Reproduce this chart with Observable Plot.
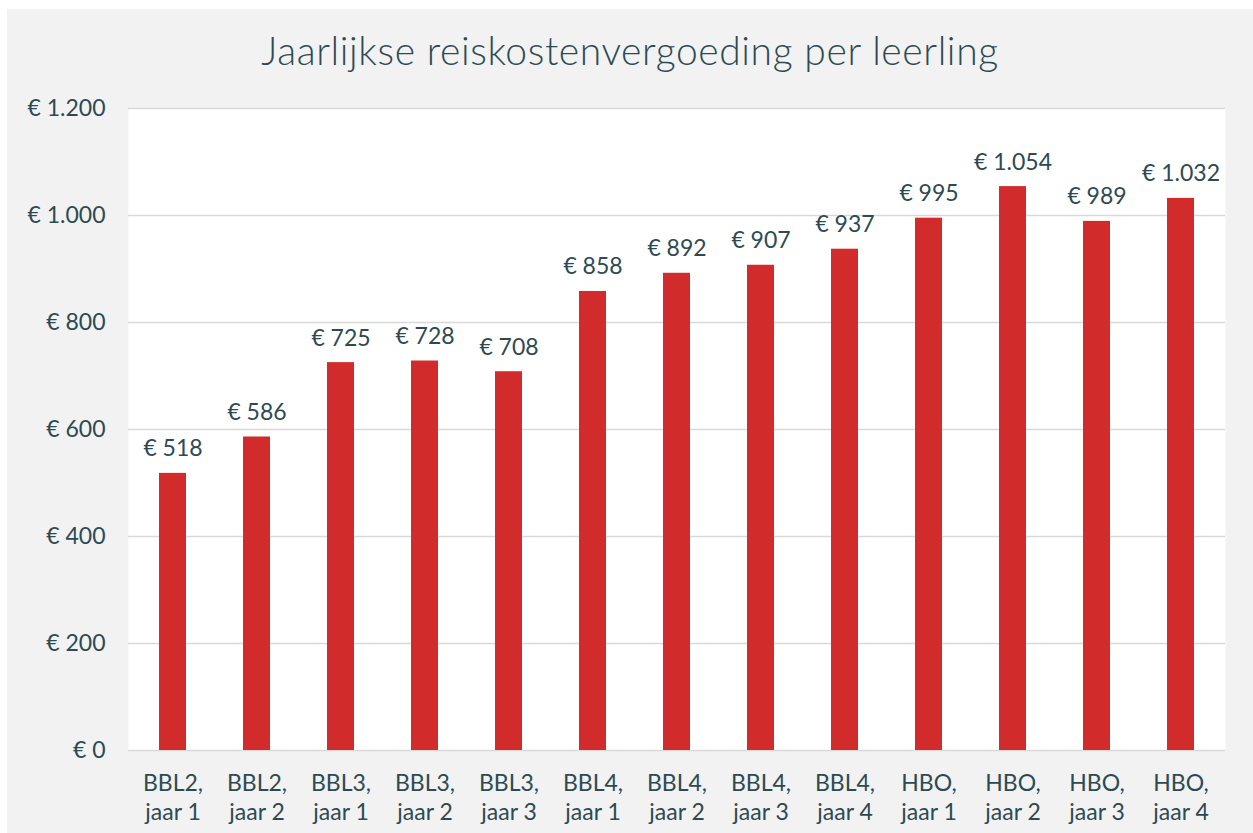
<!DOCTYPE html>
<html><head><meta charset="utf-8">
<script src="https://cdn.jsdelivr.net/npm/d3@7"></script>
<script src="https://cdn.jsdelivr.net/npm/@observablehq/plot@0.6"></script>
<style>
html,body{margin:0;padding:0;background:#fff;}
#wrap{position:absolute;left:7px;top:9px;width:1246px;height:824px;background:#f2f2f2;font-family:Lato,"Open Sans",sans-serif;color:#2d4a52;}
#title{height:80px;text-align:center;font-size:39px;line-height:82px;font-weight:300;letter-spacing:0.6px;}
</style></head><body>
<div id="wrap"><div id="title">Jaarlijkse reiskostenvergoeding per leerling</div><div id="chart"></div></div>
<script>
const categories = ["BBL2,\njaar 1","BBL2,\njaar 2","BBL3,\njaar 1","BBL3,\njaar 2","BBL3,\njaar 3","BBL4,\njaar 1","BBL4,\njaar 2","BBL4,\njaar 3","BBL4,\njaar 4","HBO,\njaar 1","HBO,\njaar 2","HBO,\njaar 3","HBO,\njaar 4"];
const values = [518,586,725,728,708,858,892,907,937,995,1054,989,1032];
const yTicks = [0,200,400,600,800,1000,1200];
const data = categories.map((c,i)=>({cat:c, value:values[i]}));
const euro = d => "€ " + d3.format(",")(d).replace(/,/g,".");
const txt = "#2d4a52";
const chart = Plot.plot({
  width:1246, height:744,
  marginTop:19, marginBottom:83, marginLeft:121, marginRight:28,
  style:{background:"transparent", fontFamily:"Lato, 'Open Sans', sans-serif", color:txt, fontSize:"23px", fontWeight:400},
  x:{domain:categories, paddingInner:0.68, paddingOuter:0.34},
  y:{domain:[0,1200]},
  marks:[
    Plot.frame({fill:"white", stroke:null}),
    Plot.gridY(yTicks,{stroke:"#d9d9d9", strokeOpacity:1, strokeWidth:1.5}),
    Plot.barY(data,{x:"cat", y:"value", fill:"#d22b2b"}),
    Plot.text(data,{x:"cat", y:"value", text:d=>euro(d.value), lineAnchor:"bottom", dy:-17, fontSize:23, fill:txt}),
    Plot.axisY(yTicks,{tickSize:0, tickPadding:23, tickFormat:euro, fontSize:23, fill:txt, label:null}),
    Plot.axisX({tickSize:0, tickPadding:20, fontSize:23, fill:txt, lineHeight:1.27, label:null})
  ]
});
document.getElementById("chart").appendChild(chart);
</script></body></html>
